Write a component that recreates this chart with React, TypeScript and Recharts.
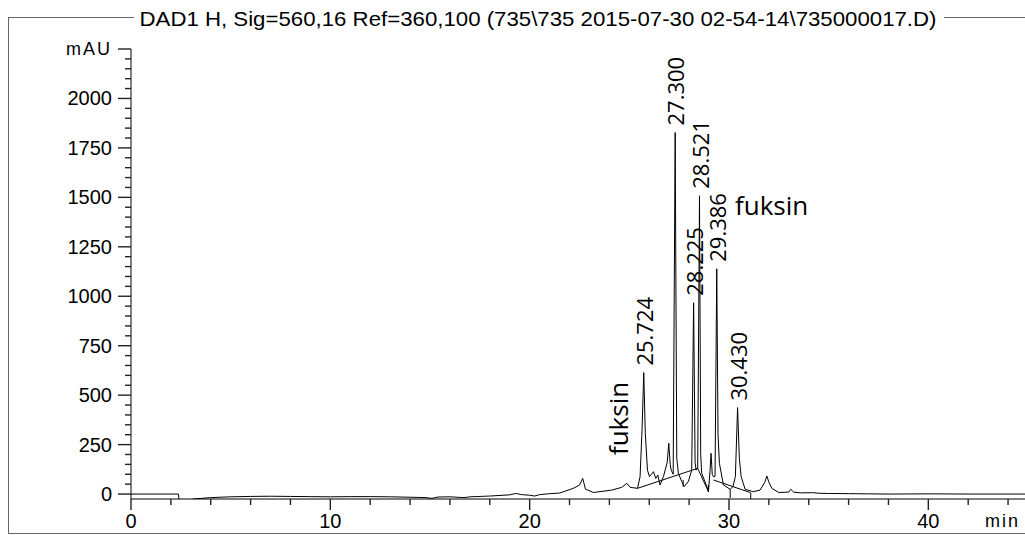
import { LineChart, Line, XAxis, YAxis, ReferenceDot } from "recharts";

// retention time (min) and detector signal (mAU)
const retention = [
  0, 2.38, 2.42, 3.0, 3.1, 3.5, 4, 5, 6, 7, 8, 9, 10, 11, 12, 13, 14, 14.8, 15.1, 15.4, 16, 16.7, 17, 18, 19,
  19.3, 19.6, 20.0, 20.25, 20.5, 21, 21.5, 22.19, 22.5, 22.66, 22.8, 23.2, 24.12, 24.62, 24.87, 25.04, 25.41,
  25.54, 25.64, 25.724, 25.8, 25.91, 26.01, 26.21, 26.33, 26.43, 26.54, 26.71, 26.9, 26.98, 27.05, 27.1, 27.2,
  27.3, 27.38, 27.46, 27.63, 27.75, 27.96, 28.13, 28.225, 28.3, 28.35, 28.43, 28.521, 28.58, 28.63, 28.89,
  28.97, 29.05, 29.1, 29.16, 29.22, 29.3, 29.386, 29.45, 29.52, 29.72, 30.06, 30.2, 30.32, 30.43, 30.52, 30.61,
  30.81, 31.22, 31.56, 31.8, 31.9, 32.0, 32.15, 32.5, 33.0, 33.1, 33.24, 33.6, 34.2, 34.5, 35, 36, 37, 38, 40,
  42, 44, 44.85,
];
const signal = [
  0, 0, -40, -40, -25, -22, -18, -14, -12, -11, -12, -13, -14, -13, -13, -14, -16, -18, -22, -15, -14, -18, -14,
  -10, -4, 3, -3, -6, -10, -3, 2, 5, 29, 45, 79, 25, 8, 20, 34, 54, 34, 29, 88, 330, 614, 310, 121, 88, 113, 79,
  96, 46, 88, 160, 257, 150, 121, 100, 1828, 180, 105, 63, 38, 63, 121, 967, 160, 121, 130, 1508, 200, 105, 38,
  12, 120, 206, 100, 88, 90, 1139, 300, 155, 46, 24, 38, 88, 437, 180, 88, 24, 12, 20, 60, 91, 60, 29, 8, 10, 24,
  10, 6, 7, 4, 3, 2, 1, 0, 1, 0, 0, 0,
];

// integration baselines and peak start/stop marks (null = gap)
const baseTimes = [25.41, 28.43, 28.97, 28.98, 29.22, 31.09, 31.1, 27.7, 27.7, 27.71, 28.97, 28.97, 28.98, 30.06, 30.06, 30.07, 31.09, 31.09];
const baseValues = [29, 130, 12, null, 71, 7, null, 71, 37, null, 46, 12, null, 25, -20, null, 5, -25];

const peakTimes = [25.724, 27.3, 28.225, 28.521, 29.386, 30.43];
const peakHeights = [614, 1828, 967, 1508, 1139, 437];
const peakLabels = ["25.724", "27.300", "28.225", "28.521", "29.386", "30.430"];

const xMajorTicks = [0, 10, 20, 30, 40];
const yMajorTicks = [0, 250, 500, 750, 1000, 1250, 1500, 1750, 2000, 2250];

const title = "DAD1 H, Sig=560,16 Ref=360,100 (735\\735 2015-07-30 02-54-14\\735000017.D)";

const data = retention.map((t, i) => ({ t, mAU: signal[i] }));
const baseline = baseTimes.map((t, i) => ({ t, b: baseValues[i] }));

const xTicks: number[] = [];
for (let v = 0; v <= 44; v += 2) xTicks.push(v);
const yTicks: number[] = [];
for (let v = 0; v <= 2250; v += 50) yTicks.push(v);

const axisFont = "'Liberation Sans', Arial, sans-serif";
const labelFont = "'Open Sans', 'Noto Sans', sans-serif";

const XTick = (props: any) => {
  const { x, y, payload } = props;
  const major = xMajorTicks.includes(payload.value);
  return (
    <g>
      <line x1={x} x2={x} y1={y} y2={y + (major ? 11 : 6)} stroke="#222" strokeWidth={1.4} />
      {major && (
        <text x={x} y={y + 22} textAnchor="middle" dominantBaseline="central" fontSize={20} fontFamily={axisFont} fill="#000">
          {payload.value}
        </text>
      )}
    </g>
  );
};

const YTick = (props: any) => {
  const { x, y, payload } = props;
  const major = yMajorTicks.includes(payload.value);
  const isUnit = payload.value === 2250;
  return (
    <g>
      <line x1={x - (major ? 13 : 6)} x2={x} y1={y} y2={y} stroke="#222" strokeWidth={1.4} />
      {major && (
        <text
          x={x - 19}
          y={y}
          textAnchor="end"
          dominantBaseline="central"
          fontSize={isUnit ? 18 : 20}
          letterSpacing={isUnit ? 2 : 0}
          fontFamily={axisFont}
          fill="#000"
        >
          {isUnit ? "mAU" : payload.value}
        </text>
      )}
    </g>
  );
};

const rotatedText = (text: string, size: number, gap: number) => (props: any) => {
  const { cx, cy } = props;
  return (
    <text
      x={cx}
      y={cy - gap}
      transform={`rotate(-90, ${cx}, ${cy - gap})`}
      textAnchor="start"
      dominantBaseline="central"
      fontSize={size}
      fontFamily={labelFont}
      fill="#000"
    >
      {text}
    </text>
  );
};

const flatText = (text: string) => (props: any) => (
  <text x={props.cx} y={props.cy} dominantBaseline="central" fontSize={26} fontFamily={labelFont} fill="#000">
    {text}
  </text>
);

export default function App() {
  return (
    <div style={{ position: "absolute", left: 0, top: 0, width: 1025, height: 535, background: "#fff", overflow: "hidden" }}>
      <div
        style={{
          position: "absolute",
          left: 8,
          top: 17,
          width: 1040,
          height: 515,
          border: "1px solid #666",
        }}
      />
      <div style={{ position: "absolute", left: 0, top: 0 }}>
        <LineChart width={1025} height={535} data={data} margin={{ top: 49, right: 0, bottom: 0, left: 0 }}>
          <XAxis
            dataKey="t"
            type="number"
            domain={[0, 44.85]}
            allowDataOverflow
            ticks={xTicks}
            interval={0}
            tick={<XTick />}
            tickLine={false}
            tickSize={0}
            tickMargin={0}
            height={36}
            axisLine={{ stroke: "#000" }}
          />
          <YAxis
            type="number"
            domain={[-25, 2250]}
            allowDataOverflow
            ticks={yTicks}
            interval={0}
            tick={<YTick />}
            tickLine={false}
            tickSize={0}
            tickMargin={0}
            width={131}
            axisLine={{ stroke: "#000" }}
          />
          <Line
            data={data}
            dataKey="mAU"
            type="linear"
            stroke="#000"
            strokeWidth={1}
            dot={false}
            isAnimationActive={false}
          />
          <Line
            data={baseline}
            dataKey="b"
            type="linear"
            stroke="#000"
            strokeWidth={1}
            dot={false}
            connectNulls={false}
            isAnimationActive={false}
          />
          {peakTimes.map((t, i) => (
            <ReferenceDot key={peakLabels[i]} x={t} y={peakHeights[i]} r={0} shape={rotatedText(peakLabels[i], 22, 7)} />
          ))}
          <ReferenceDot x={24.44} y={197} r={0} shape={rotatedText("fuksin", 26, 0)} />
          <ReferenceDot x={30.3} y={1462} r={0} shape={flatText("fuksin")} />
        </LineChart>
      </div>
      <svg style={{ position: "absolute", left: 0, top: 0, pointerEvents: "none" }} width={1025} height={535}>
        <rect x={134} y={6} width={810} height={24} fill="#fff" />
        <text
          x={538}
          y={18}
          textAnchor="middle"
          dominantBaseline="central"
          fontSize={21}
          fontFamily={axisFont}
          textLength={797}
          lengthAdjust="spacingAndGlyphs"
          fill="#000"
        >
          {title}
        </text>
        <text x={985} y={521} dominantBaseline="central" fontSize={18} letterSpacing={2} fontFamily={axisFont} fill="#000">
          min
        </text>
      </svg>
    </div>
  );
}
